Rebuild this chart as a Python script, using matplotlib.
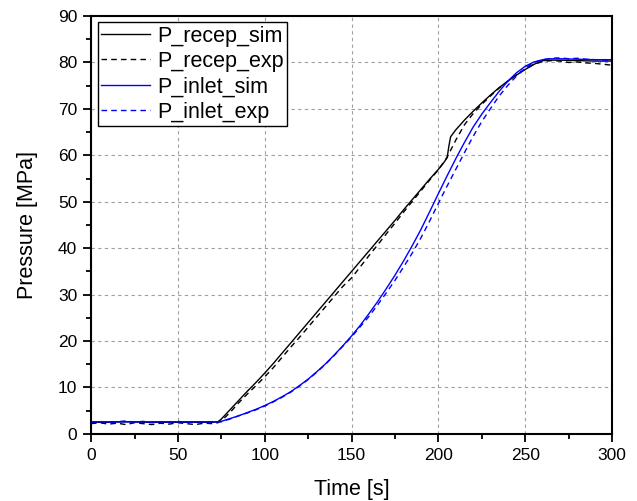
import matplotlib
matplotlib.use('Agg')
import matplotlib.pyplot as plt
from matplotlib.ticker import MultipleLocator

plt.rcParams['font.family'] = ['Liberation Sans', 'DejaVu Sans']

t_recep_sim = [0, 10, 20, 30, 40, 50, 60, 70, 73, 75, 80, 85, 90, 95, 100, 105, 110, 115, 120, 125,
               130, 135, 140, 145, 150, 155, 160, 165, 170, 175, 180, 185, 190, 195, 200, 203, 205,
               206, 207, 210, 215, 220, 225, 230, 235, 240, 245, 250, 255, 260, 265, 270, 280, 290, 300]
p_recep_sim = [2.5, 2.5, 2.6, 2.5, 2.5, 2.5, 2.5, 2.5, 2.6, 3.2, 5.2, 7.2, 9.2, 11.1, 13.1, 15.2, 17.4,
               19.6, 21.8, 24.0, 26.2, 28.4, 30.6, 32.8, 35.0, 37.2, 39.4, 41.6, 43.8, 46.0, 48.3, 50.5,
               52.7, 54.9, 57.0, 58.4, 59.5, 62.0, 64.0, 65.5, 67.6, 69.5, 71.3, 73.0, 74.6, 76.0, 77.3,
               78.5, 79.6, 80.4, 80.5, 80.5, 80.4, 80.3, 80.3]

t_recep_exp = [0, 5, 10, 15, 20, 25, 30, 35, 40, 45, 50, 55, 60, 65, 70, 73, 75, 80, 85, 90, 95, 100,
               105, 110, 115, 120, 125, 130, 135, 140, 145, 150, 155, 160, 165, 170, 175, 180, 185,
               190, 195, 200, 205, 210, 215, 220, 225, 230, 235, 240, 245, 250, 255, 260, 265, 270,
               275, 280, 285, 290, 295, 300]
p_recep_exp = [2.2, 2.4, 2.1, 2.3, 2.0, 2.4, 2.2, 2.0, 2.3, 2.1, 2.4, 2.2, 2.0, 2.3, 2.2, 2.4, 2.8,
               4.6, 6.7, 8.6, 10.4, 12.3, 14.3, 16.5, 18.7, 20.8, 23.0, 25.2, 27.4, 29.6, 31.8, 33.6,
               36.0, 38.4, 40.7, 43.1, 45.4, 47.8, 50.1, 52.4, 54.7, 56.9, 59.6, 63.3, 66.6, 69.0,
               71.0, 72.8, 74.5, 76.0, 77.4, 78.6, 79.6, 80.2, 80.4, 80.3, 80.0, 80.1, 79.9, 79.8,
               79.6, 79.4]

t_inlet_sim = [0, 10, 20, 30, 40, 50, 60, 70, 73, 75, 80, 85, 90, 95, 100, 105, 110, 115, 120, 125,
               130, 135, 140, 145, 150, 155, 160, 165, 170, 175, 180, 185, 190, 195, 200, 205, 210,
               215, 220, 225, 230, 235, 240, 245, 250, 255, 260, 265, 270, 280, 290, 300]
p_inlet_sim = [2.6, 2.6, 2.6, 2.6, 2.6, 2.6, 2.6, 2.6, 2.6, 2.7, 3.3, 3.9, 4.6, 5.3, 6.1, 7.0, 8.0,
               9.1, 10.4, 11.8, 13.4, 15.1, 17.0, 19.0, 21.1, 23.4, 25.9, 28.5, 31.3, 34.2, 37.3,
               40.6, 44.1, 47.9, 51.8, 55.6, 59.3, 62.8, 66.1, 68.9, 71.4, 73.8, 76.0, 77.8, 79.2,
               80.1, 80.6, 80.8, 80.8, 80.7, 80.6, 80.6]

t_inlet_exp = [0, 5, 10, 15, 20, 25, 30, 35, 40, 45, 50, 55, 60, 65, 70, 75, 80, 85, 90, 95, 100,
               105, 110, 115, 120, 125, 130, 135, 140, 145, 150, 155, 160, 165, 170, 175, 180, 185,
               190, 195, 200, 205, 210, 215, 220, 225, 230, 235, 240, 245, 250, 255, 260, 265, 270,
               275, 280, 285, 290, 295, 300]
p_inlet_exp = [2.5, 2.7, 2.4, 2.6, 2.8, 2.5, 2.7, 2.4, 2.6, 2.5, 2.7, 2.4, 2.6, 2.5, 2.6, 2.6, 3.2,
               3.9, 4.5, 5.2, 6.0, 6.9, 7.9, 9.0, 10.3, 11.7, 13.3, 15.0, 16.9, 18.9, 20.9, 23.1,
               25.3, 27.8, 30.4, 33.1, 36.0, 39.0, 42.3, 45.9, 49.7, 53.4, 57.0, 60.6, 64.1, 67.3,
               70.1, 72.8, 75.1, 77.1, 78.8, 80.0, 80.6, 80.9, 81.0, 80.8, 80.9, 80.7, 80.6, 80.5,
               80.4]

fig = plt.figure(figsize=(6.37, 5.01), dpi=100)
ax = fig.add_axes([0.143, 0.134, 0.818, 0.834])

ax.plot(t_recep_sim, p_recep_sim, color='black', lw=1.0, label='P_recep_sim')
ax.plot(t_recep_exp, p_recep_exp, color='black', lw=1.0, ls=(0, (4, 3)), label='P_recep_exp')
ax.plot(t_inlet_sim, p_inlet_sim, color='#0000ff', lw=1.0, label='P_inlet_sim')
ax.plot(t_inlet_exp, p_inlet_exp, color='#0000ff', lw=1.0, ls=(0, (4, 3)), label='P_inlet_exp')

ax.set_xlim(0, 300)
ax.set_ylim(0, 90)
ax.xaxis.set_major_locator(MultipleLocator(50))
ax.xaxis.set_minor_locator(MultipleLocator(25))
ax.yaxis.set_major_locator(MultipleLocator(10))
ax.yaxis.set_minor_locator(MultipleLocator(5))
ax.tick_params(which='major', direction='out', length=6, width=1.3, labelsize=12.5, pad=4)
ax.tick_params(which='minor', direction='out', length=3.5, width=1.3)
for s in ax.spines.values():
    s.set_linewidth(1.5)
ax.grid(True, which='major', color='#a0a0a0', ls=(0, (3, 3)), lw=0.8)
ax.set_axisbelow(True)

ax.set_xlabel('Time [s]', fontsize=15.5, labelpad=12)
ax.set_ylabel('Pressure [MPa]', fontsize=15.5, labelpad=14)

leg = ax.legend(loc='upper left', fontsize=15.5, fancybox=False, framealpha=1,
                edgecolor='black', handlelength=2.3, borderpad=0.15, labelspacing=0.2,
                handletextpad=0.3, borderaxespad=0.3)
leg.get_frame().set_linewidth(1.0)

fig.savefig('out.png', dpi=100)
